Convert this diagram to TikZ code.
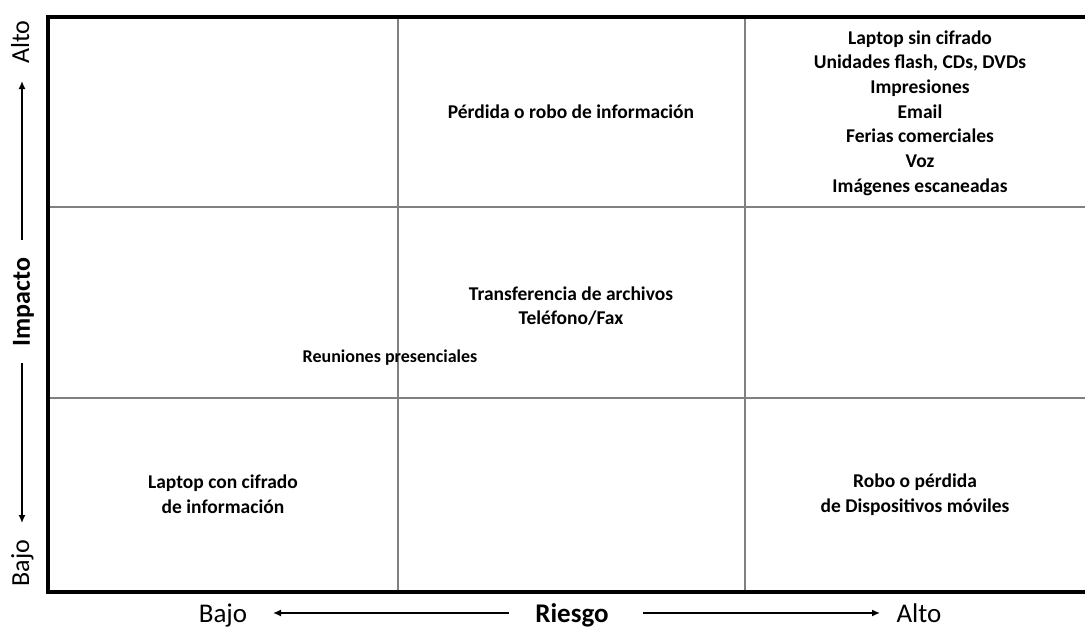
\documentclass[tikz,border=0pt]{standalone}
\usepackage{fontspec}
\setmainfont{Carlito}
\usetikzlibrary{arrows.meta}

\begin{document}
\begin{tikzpicture}[x=1pt, y=-1pt,
  cell/.style={font=\fontsize{19.5}{24.7}\selectfont\bfseries, align=center, inner sep=0pt},
  axislabel/.style={font=\fontsize{27}{30}\selectfont, inner sep=0pt, anchor=base},
  sidelabel/.style={font=\fontsize{26}{30}\selectfont, inner sep=0pt, anchor=base, rotate=90},
  axisarrow/.style={line width=1.5pt, -{Latex[length=8pt, width=7pt]}}]
  % Define colors
  \colorlet{frameline}{black}
  \colorlet{gridline}{black!50}

  % Page size
  \useasboundingbox (0,0) rectangle (1085,627);

  % Grid
  \foreach \x in {398,745} {
    \draw[gridline, line width=2pt] (\x,16.5) -- (\x,591.5);
  }
  \foreach \y in {207,398} {
    \draw[gridline, line width=2pt] (48,\y) -- (1085,\y);
  }

  % Frame
  \draw[frameline, line width=4pt] (1085,16.5) -- (48,16.5) -- (48,591.5) -- (1085,591.5);

  % Top row
  \node[cell] (loss) at (571,112) {Pérdida o robo de información};
  \node[cell] (media) at (920,113) {Laptop sin cifrado\\Unidades flash, CDs, DVDs\\Impresiones\\Email\\Ferias comerciales\\Voz\\Imágenes escaneadas};

  % Middle row
  \node[cell] (transfer) at (571,306) {Transferencia de archivos\\Teléfono/Fax};
  \node[cell, font=\fontsize{18}{22}\selectfont\bfseries, anchor=base] (meeting) at (390,362) {Reuniones presenciales};

  % Bottom row
  \node[cell] (encrypted) at (223,494.5) {Laptop con cifrado\\de información};
  \node[cell] (mobile) at (915,494.5) {Robo o pérdida\\de Dispositivos móviles};

  % Impact axis
  \node[sidelabel] (impHigh) at (29,42) {Alto};
  \node[sidelabel, font=\fontsize{26}{30}\selectfont\bfseries] (impact) at (30,302) {Impacto};
  \node[sidelabel] (impLow) at (29,563) {Bajo};
  \coordinate (impTop) at (22,240);
  \coordinate (impTip) at (22,81);
  \coordinate (impBottom) at (22,363);
  \coordinate (impEnd) at (22,523);
  \draw[axisarrow] (impTop) -- (impTip);
  \draw[axisarrow] (impBottom) -- (impEnd);

  % Risk axis
  \node[axislabel] (riskLow) at (223,622) {Bajo};
  \node[axislabel, font=\fontsize{27}{30}\selectfont\bfseries] (risk) at (572,622) {Riesgo};
  \node[axislabel] (riskHigh) at (919,622) {Alto};
  \coordinate (riskLeft) at (509,613);
  \coordinate (riskLeftTip) at (273,613);
  \coordinate (riskRight) at (643,613);
  \coordinate (riskRightTip) at (880,613);
  \draw[axisarrow] (riskLeft) -- (riskLeftTip);
  \draw[axisarrow] (riskRight) -- (riskRightTip);
\end{tikzpicture}
\end{document}
